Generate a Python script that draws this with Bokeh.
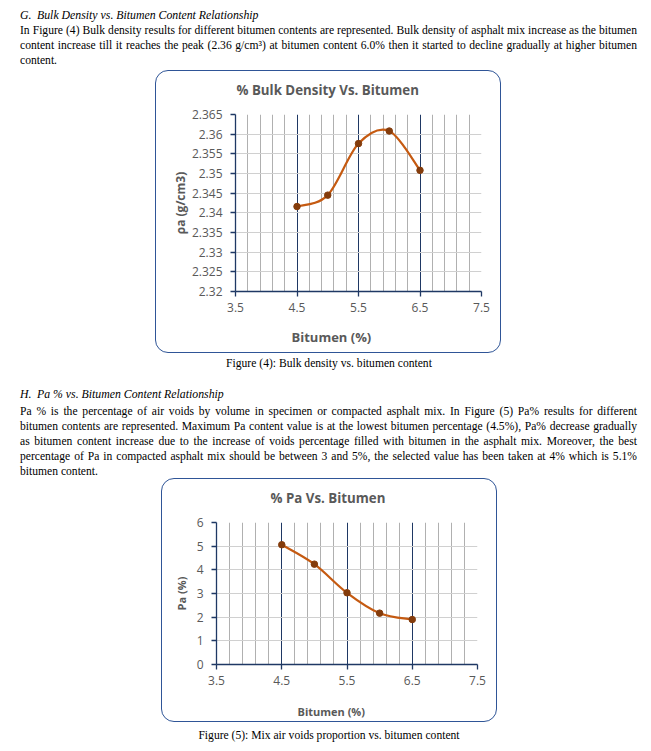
import numpy as np
from bokeh.plotting import figure
from bokeh.models import Div, FixedTicker, Title, Range1d, LinearAxis
from bokeh.layouts import column, row
from bokeh.embed import file_html
from bokeh.resources import INLINE

# ---------------- data ----------------
bitumen = [4.5, 5.0, 5.5, 6.0, 6.5]
bulk_density = [2.3416, 2.3445, 2.3576, 2.3608, 2.3508]
pa_percent = [5.06, 4.24, 3.03, 2.17, 1.90]

x_major_ticks = [3.5, 4.5, 5.5, 6.5, 7.5]
x_minor_ticks = [3.7, 3.9, 4.1, 4.3, 4.7, 4.9, 5.1, 5.3, 5.7, 5.9, 6.1, 6.3, 6.7, 6.9, 7.1, 7.3]
bd_ticks = [2.32, 2.325, 2.33, 2.335, 2.34, 2.345, 2.35, 2.355, 2.36, 2.365]
bd_tick_labels = ["2.32", "2.325", "2.33", "2.335", "2.34", "2.345", "2.35", "2.355", "2.36", "2.365"]
pa_ticks = [0, 1, 2, 3, 4, 5, 6]

NAVY = "#1f3864"
GRID = "#d0d0d0"
MINOR = "#b0b0b0"
TXT = "#595959"
LINE = "#c55a11"
MARK = "#843c0c"
BOX = "#2f5597"
CFONT = "Open Sans"
SERIF = "Liberation Serif"
NBSP = "\u00a0"


def smooth_segments(xs, ys):
    n = len(xs)
    out = {k: [] for k in ("x0", "y0", "x1", "y1", "cx0", "cy0", "cx1", "cy1")}
    for i in range(n - 1):
        xp, yp = (xs[i - 1], ys[i - 1]) if i > 0 else (xs[i], ys[i])
        xn, yn = (xs[i + 2], ys[i + 2]) if i + 2 < n else (xs[i + 1], ys[i + 1])
        out["x0"].append(xs[i]); out["y0"].append(ys[i])
        out["x1"].append(xs[i + 1]); out["y1"].append(ys[i + 1])
        out["cx0"].append(xs[i] + (xs[i + 1] - xp) / 6)
        out["cy0"].append(ys[i] + (ys[i + 1] - yp) / 6)
        out["cx1"].append(xs[i + 1] - (xn - xs[i]) / 6)
        out["cy1"].append(ys[i + 1] - (yn - ys[i]) / 6)
    return out


def make_chart(width, height, borders, yr, yticks, ylabels, ys, title, title_off, title_gap_size, title_size,
               ylab, ylab_size, ylab_standoff, xlab_off, xlab_gap_size, xlab_size):
    bl, br, bt, bb = borders
    p = figure(width=width, height=height, x_range=Range1d(3.5, 7.5), y_range=Range1d(*yr),
               output_backend="svg", toolbar_location=None, title=None,
               min_border_left=bl, min_border_right=br, min_border_top=bt, min_border_bottom=bb)
    p.border_fill_color = None
    p.background_fill_color = None
    p.outline_line_color = None
    p.styles = {"border": f"1.3px solid {BOX}", "border-radius": "13px"}

    xt = FixedTicker(ticks=x_major_ticks, minor_ticks=x_minor_ticks)
    p.xaxis.ticker = xt
    p.xgrid.ticker = xt
    p.xgrid.grid_line_color = NAVY
    p.xgrid.grid_line_width = 1
    p.xgrid.minor_grid_line_color = MINOR
    p.xgrid.minor_grid_line_width = 1

    yt = FixedTicker(ticks=yticks)
    p.yaxis.ticker = yt
    p.ygrid.ticker = yt
    p.ygrid.grid_line_color = GRID
    if ylabels is not None:
        p.yaxis.major_label_overrides = {t: l for t, l in zip(yticks, ylabels)}

    for ax in (p.xaxis[0], p.yaxis[0]):
        ax.axis_line_color = NAVY
        ax.axis_line_width = 1.3
        ax.major_tick_line_color = NAVY
        ax.major_tick_line_width = 1.3
        ax.major_tick_out = 5
        ax.major_tick_in = 0
        ax.minor_tick_line_color = None
        ax.major_label_text_font = CFONT
        ax.major_label_text_font_size = "12px"
        ax.major_label_text_color = TXT
    p.xaxis.major_label_standoff = 6
    p.yaxis.major_label_standoff = 8

    p.yaxis.axis_label = ylab
    p.yaxis.axis_label_text_font = CFONT
    p.yaxis.axis_label_text_font_size = ylab_size
    p.yaxis.axis_label_text_font_style = "bold"
    p.yaxis.axis_label_text_color = TXT
    p.yaxis.axis_label_standoff = ylab_standoff

    # blank axis label only to leave room between the x axis and its title
    p.xaxis.axis_label = NBSP
    p.xaxis.axis_label_text_font = CFONT
    p.xaxis.axis_label_text_font_size = xlab_gap_size
    p.xaxis.axis_label_standoff = 0

    # empty axis above the frame, leaving room between the frame and the chart title
    gap_axis = LinearAxis(ticker=FixedTicker(ticks=[]), axis_line_color=None,
                          major_tick_line_color=None, minor_tick_line_color=None,
                          major_tick_out=0, major_tick_in=0, major_label_standoff=0,
                          axis_label=NBSP, axis_label_standoff=0, axis_label_text_font=CFONT,
                          axis_label_text_font_size=title_gap_size)
    p.add_layout(gap_axis, "above")
    tt = Title(text=title, align="left", offset=title_off, standoff=0,
               text_font=CFONT, text_font_size=title_size, text_font_style="bold", text_color=TXT)
    p.add_layout(tt, "above")

    xl = Title(text="Bitumen (%)", align="left", offset=xlab_off, standoff=0,
               text_font=CFONT, text_font_size=xlab_size, text_font_style="bold", text_color=TXT)
    p.add_layout(xl, "below")

    seg = smooth_segments(bitumen, ys)
    p.bezier(x0=seg["x0"], y0=seg["y0"], x1=seg["x1"], y1=seg["y1"],
             cx0=seg["cx0"], cy0=seg["cy0"], cx1=seg["cx1"], cy1=seg["cy1"],
             line_color=LINE, line_width=2.2)
    p.scatter(bitumen, ys, size=6.5, fill_color=MARK, line_color=MARK)
    return p


p1 = make_chart(346, 283, (79, 21, 43, 63), (2.32, 2.365), bd_ticks, bd_tick_labels, bulk_density,
                "% Bulk Density Vs. Bitumen", 1, "9.4px", "13.3px",
                "ρa (g/cm3)", "12px", 0, 56, "5.7px", "13px")
p2 = make_chart(336, 244, (54, 21, 43, 59), (0, 6), pa_ticks, None, pa_percent,
                "% Pa Vs. Bitumen", 54, "9.2px", "13.3px",
                "Pa (%)", "11px", 5, 81, "8.1px", "11px")
p1.margin = (0, 0, 0, 155)
p2.margin = (0, 0, 0, 161)

LS = "width:617px;text-align:justify;text-align-last:justify;white-space:nowrap;"
LL = "width:617px;text-align:left;white-space:nowrap;"
HD = "width:617px;font-style:italic;white-space:nowrap;font-size:11.8px;"
TAB = '<span style="display:inline-block;width:17px;">'

textA = (
    f'<div style="font-family:{SERIF};font-size:11.6px;line-height:15px;color:#000;">'
    f'<div style="{HD}">{TAB}G.</span>Bulk Density vs. Bitumen Content Relationship</div>'
    f'<div style="{LS}">In Figure (4) Bulk density results for different bitumen contents are represented. Bulk density of asphalt mix increase as the bitumen</div>'
    f'<div style="{LS}">content increase till it reaches the peak (2.36 g/cm³) at bitumen content 6.0% then it started to decline gradually at higher bitumen</div>'
    f'<div style="{LL}">content.</div>'
    '</div>'
)
textB = (
    f'<div style="font-family:{SERIF};font-size:11.6px;line-height:15px;color:#000;padding-top:13px;">'
    f'<div style="{HD}margin-bottom:2px;">{TAB}H.</span>Pa % vs. Bitumen Content Relationship</div>'
    f'<div style="{LS}">Pa % is the percentage of air voids by volume in specimen or compacted asphalt mix. In Figure (5) Pa% results for different</div>'
    f'<div style="{LS}">bitumen contents are represented. Maximum Pa content value is at the lowest bitumen percentage (4.5%), Pa% decrease gradually</div>'
    f'<div style="{LS}">as bitumen content increase due to the increase of voids percentage filled with bitumen in the asphalt mix. Moreover, the best</div>'
    f'<div style="{LS}">percentage of Pa in compacted asphalt mix should be between 3 and 5%, the selected value has been taken at 4% which is 5.1%</div>'
    f'<div style="{LL}">bitumen content.</div>'
    '</div>'
)

divA = Div(text=textA, width=617, height=62, margin=(8, 0, 0, 20))
cap1 = Div(text=f'<div style="width:600px;font-family:{SERIF};font-size:11.6px;line-height:21px;text-align:center;color:#000;">Figure (4): Bulk density vs. bitumen content</div>',
           width=600, height=21, margin=(0, 0, 0, 29))
divB = Div(text=textB, width=617, height=104, margin=(0, 0, 0, 20))
cap2 = Div(text=f'<div style="width:600px;font-family:{SERIF};font-size:11.6px;line-height:28px;text-align:center;color:#000;">Figure (5): Mix air voids proportion vs. bitumen content</div>',
           width=600, height=26, margin=(0, 0, 0, 29))

layout = column(divA, row(p1), cap1, divB, row(p2), cap2, spacing=0)

with open("out.html", "w") as f:
    f.write(file_html(layout, INLINE))
